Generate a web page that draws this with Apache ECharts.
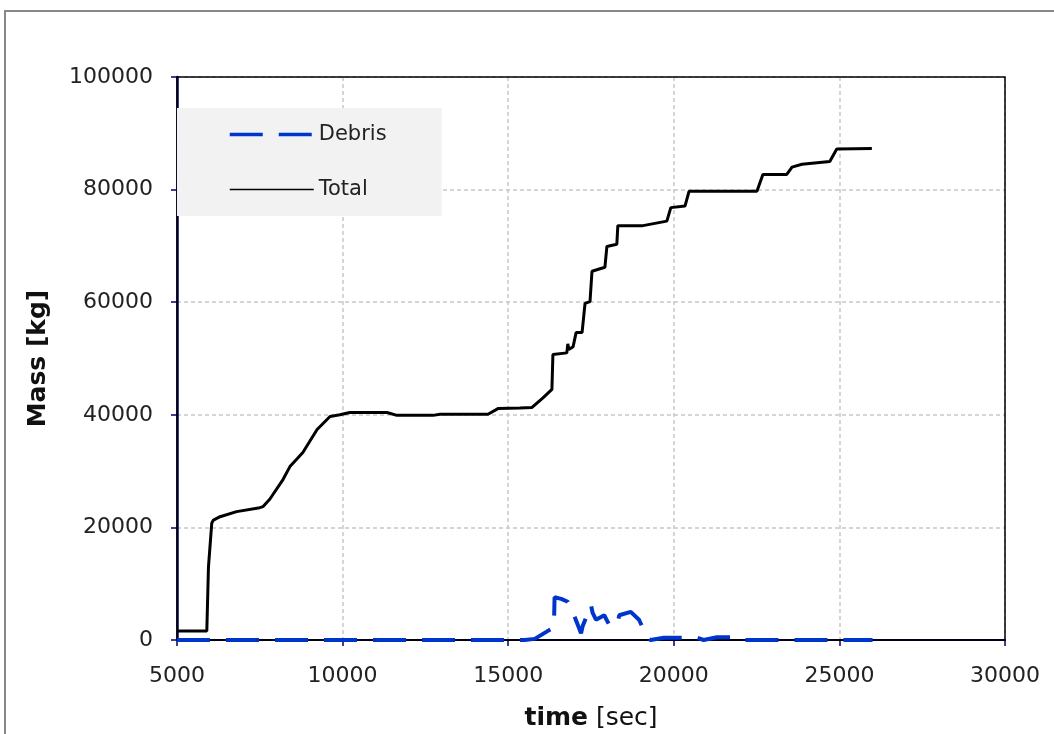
<!DOCTYPE html>
<html>
<head>
<meta charset="utf-8">
<script src="https://cdn.jsdelivr.net/npm/echarts@6/dist/echarts.min.js"></script>
<style>html,body{margin:0;padding:0;background:#fff;}#c{width:1054px;height:734px;}</style>
</head>
<body>
<div id="c"></div>
<script>
var xTicks = [5000, 10000, 15000, 20000, 25000, 30000];
var yTicks = [0, 20000, 40000, 60000, 80000, 100000];

var totalTime = [5000, 5900, 5950, 6050, 6100, 6300, 6800, 7500, 7600, 7800, 8200, 8410, 8800, 9000, 9230, 9620, 9920, 10220, 11340, 11640, 12730, 12940, 14390, 14690, 15350, 15720, 16050, 16320, 16350, 16770, 16800, 16830, 16960, 17050, 17230, 17320, 17470, 17530, 17920, 17980, 18280, 18310, 19070, 19790, 19910, 20340, 20460, 22510, 22690, 23410, 23570, 23870, 24710, 24920, 25980];
var totalMass = [1600, 1600, 13000, 20800, 21300, 21900, 22800, 23500, 23700, 25000, 28500, 30800, 33300, 35200, 37400, 39700, 40000, 40400, 40400, 39900, 39900, 40100, 40100, 41100, 41200, 41300, 43000, 44500, 50700, 51000, 52600, 51600, 52100, 54600, 54600, 59800, 60100, 65500, 66200, 69900, 70300, 73600, 73600, 74400, 76800, 77100, 79700, 79700, 82700, 82700, 84000, 84500, 85000, 87200, 87300];

var debrisTime = [5000, 15500, 15800, 16250, 16380, 16400, 16600, 16800, 17000, 17200, 17250, 17500, 17550, 17650, 17900, 18050, 18300, 18350, 18700, 18950, 19200, 19300, 19700, 20700, 20900, 21300, 21800, 22000, 26000];
var debrisMass = [0, 0, 200, 1800, 2200, 7600, 7300, 6800, 4200, 1200, 2500, 6200, 4800, 3600, 4400, 2700, 2700, 4400, 5000, 3600, 400, 0, 400, 400, 0, 500, 500, 0, 0];

function pairs(xs, ys) { return xs.map(function (x, i) { return [x, ys[i]]; }); }
function plain(v) { return String(v); }

var chart = echarts.init(document.getElementById('c'));
chart.setOption({
  animation: false,
  backgroundColor: '#ffffff',
  graphic: [{
    type: 'rect', z: -1,
    shape: { x: 5, y: 11, width: 1200, height: 900 },
    style: { fill: 'none', stroke: '#888888', lineWidth: 2 }
  }],
  grid: { left: 177, right: 49, top: 77, bottom: 94, outerBoundsMode: 'none', containLabel: false, show: true, borderColor: '#000', borderWidth: 1.5, backgroundColor: 'transparent', z: 3 },
  legend: {
    orient: 'vertical', left: 177, top: 108,
    backgroundColor: '#f2f2f2',
    padding: [16, 55, 16, 51],
    itemWidth: 84, itemHeight: 14, itemGap: 34,
    itemStyle: { opacity: 0 },
    textStyle: { fontFamily: 'DejaVu Sans', fontSize: 21, color: '#222' },
    data: [
      { name: 'Debris', lineStyle: { width: 3.5 } },
      { name: 'Total', lineStyle: { width: 1.5 } }
    ]
  },
  xAxis: {
    type: 'value', min: 5000, max: 30000, interval: 5000,
    name: '{b|time} [sec]', nameLocation: 'middle', nameGap: 66,
    nameTextStyle: { fontFamily: 'DejaVu Sans', fontSize: 25, color: '#111', rich: { b: { fontFamily: 'DejaVu Sans', fontSize: 25, fontWeight: 'bold', color: '#111' } } },
    axisLine: { show: true, lineStyle: { color: '#000066', width: 2 } },
    axisTick: { show: true, inside: false, length: 6, lineStyle: { color: '#000066', width: 1.5 } },
    axisLabel: { fontFamily: 'DejaVu Sans', fontSize: 22, color: '#222', margin: 25, formatter: plain },
    splitLine: { show: true, lineStyle: { color: '#c8c8c8', type: [4, 3], width: 1.5 } }
  },
  yAxis: {
    type: 'value', min: 0, max: 100000, interval: 20000,
    name: '{b|Mass} [kg]', nameLocation: 'middle', nameGap: 126,
    nameTextStyle: { fontFamily: 'DejaVu Sans', fontSize: 25, fontWeight: 'bold', color: '#111', rich: { b: { fontFamily: 'DejaVu Sans', fontSize: 25, fontWeight: 'bold', color: '#111' } } },
    axisLine: { show: true, lineStyle: { color: '#000066', width: 2.5 } },
    axisTick: { show: true, inside: false, length: 6, lineStyle: { color: '#000066', width: 1.5 } },
    axisLabel: { fontFamily: 'DejaVu Sans', fontSize: 22, color: '#222', margin: 24, formatter: plain },
    splitLine: { show: true, lineStyle: { color: '#c8c8c8', type: [4, 3], width: 1.5 } }
  },
  series: [
    {
      name: 'Debris', type: 'line', data: pairs(debrisTime, debrisMass),
      symbol: 'none', z: 3,
      lineStyle: { color: '#0035CC', width: 4, type: [33, 16] },
      itemStyle: { color: '#0035CC' }
    },
    {
      name: 'Total', type: 'line', data: pairs(totalTime, totalMass),
      symbol: 'none', z: 4,
      lineStyle: { color: '#000000', width: 3 },
      itemStyle: { color: '#000000' }
    }
  ]
});
</script>
</body>
</html>
